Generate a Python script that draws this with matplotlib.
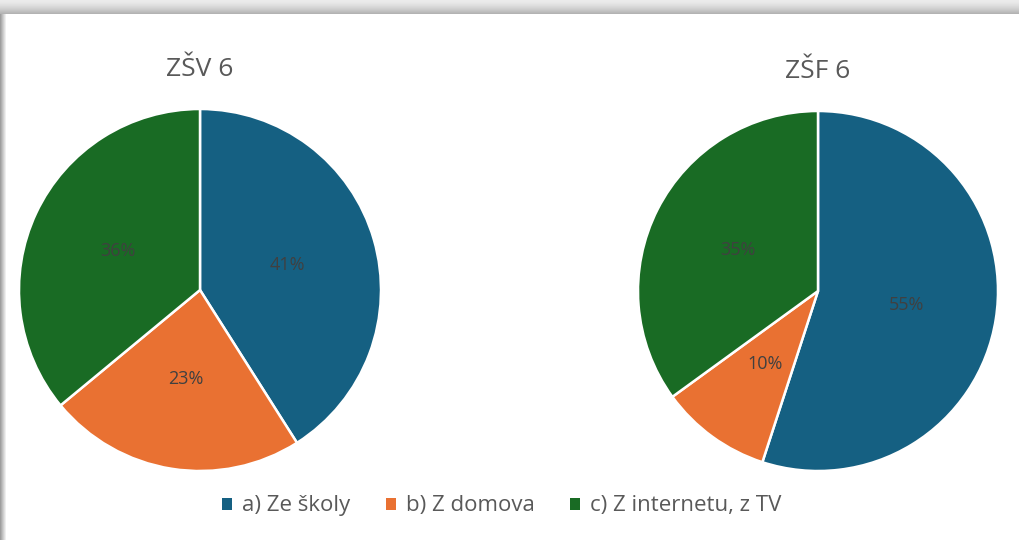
import numpy as np
import matplotlib
matplotlib.use("Agg")
import matplotlib.pyplot as plt
from matplotlib.patches import Patch

plt.rcParams['font.family'] = ['Open Sans', 'DejaVu Sans']

categories = ["a) Ze školy", "b) Z domova", "c) Z internetu, z TV"]
titles = ["ZŠV 6", "ZŠF 6"]
zsv6 = [41, 23, 36]
zsf6 = [55, 10, 35]
colors = ["#156082", "#E97132", "#196B24"]

W, H = 1020, 540
fig = plt.figure(figsize=(W / 100, H / 100), dpi=100)

# soft shadow frame at the top and left edges
bg = fig.add_axes([0, 0, 1, 1])
img = np.ones((H, W))
for r in range(14):
    img[r, :] = 0.92 - 0.22 * (r / 13.0) ** 1.5
for c in range(7):
    img[14:, c] = np.minimum(img[14:, c], 0.62 + 0.38 * (c / 6.0))
bg.imshow(img, cmap="gray", vmin=0, vmax=1, aspect="auto", extent=(0, W, 0, H))
bg.axis("off")

# pie positions in pixels: centre x, centre y (from top), radius
pies = [(200, 290, 181, zsv6, titles[0], 70), (818, 291, 180, zsf6, titles[1], 72)]

for cx, cy, rad, vals, title, ty in pies:
    ax = fig.add_axes([(cx - rad) / W, (H - cy - rad) / H, 2 * rad / W, 2 * rad / H])
    ax.pie(vals, colors=colors, startangle=90, counterclock=False,
           autopct="%d%%", pctdistance=0.5,
           wedgeprops=dict(edgecolor="white", linewidth=1.8),
           textprops=dict(color="#404040", fontsize=13))
    ax.set_xlim(-1, 1)
    ax.set_ylim(-1, 1)
    fig.text(cx / W, 1 - ty / H, title, ha="center", va="center",
             fontsize=19, color="#595959")

handles = [Patch(facecolor=c, edgecolor="none") for c in colors]
fig.legend(handles, categories, loc="center", bbox_to_anchor=(0.492, 1 - 506 / H),
           ncol=3, frameon=False, fontsize=16, labelcolor="#595959",
           handlelength=0.45, handleheight=0.45, handletextpad=0.45, columnspacing=1.6)

fig.savefig("out.png", dpi=100)
